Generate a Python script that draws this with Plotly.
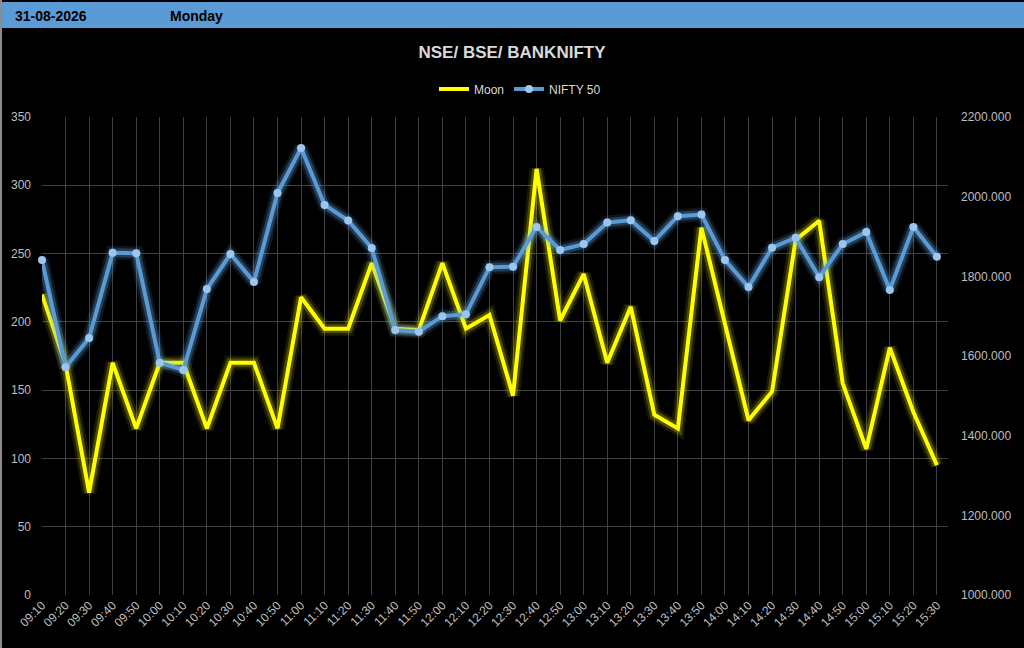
import plotly.graph_objects as go

# time slots (category axis)
times = ["09:10", "09:20", "09:30", "09:40", "09:50",
         "10:00", "10:10", "10:20", "10:30", "10:40", "10:50",
         "11:00", "11:10", "11:20", "11:30", "11:40", "11:50",
         "12:00", "12:10", "12:20", "12:30", "12:40", "12:50",
         "13:00", "13:10", "13:20", "13:30", "13:40", "13:50",
         "14:00", "14:10", "14:20", "14:30", "14:40", "14:50",
         "15:00", "15:10", "15:20", "15:30"]

moon = [220, 169, 75, 170, 122,
        170, 170, 122, 170, 170, 122,
        218, 195, 195, 243, 195, 194,
        243, 195, 205, 146, 312, 201,
        235, 170, 211, 132, 122, 269,
        198, 128, 149, 260, 274, 155,
        107, 181, 134, 95]

nifty = [1841, 1572, 1645, 1859, 1858,
         1583, 1565, 1768, 1856, 1786, 2009,
         2122, 1979, 1940, 1871, 1665, 1661,
         1700, 1705, 1823, 1824, 1924, 1866,
         1881, 1935, 1941, 1889, 1951, 1955,
         1841, 1773, 1872, 1897, 1798, 1881,
         1911, 1766, 1924, 1849]

date_label = "31-08-2026"
day_label = "Monday"
title = "NSE/ BSE/ BANKNIFTY"

FONT = "Liberation Sans Narrow, Liberation Sans, Arial"
TICK_COLOR = "#bfbfbf"
GRID = "#3f3f3f"

xs = list(range(len(times)))

fig = go.Figure()

# soft glow under each line (two passes: wide faint + narrow brighter)
for w, a in [(14, 0.10), (9, 0.22)]:
    fig.add_trace(go.Scatter(x=xs, y=moon, mode="lines", showlegend=False, hoverinfo="skip",
                             line=dict(color=f"rgba(255,255,0,{a})", width=w), cliponaxis=False))
for w, a in [(14, 0.12), (9, 0.25)]:
    fig.add_trace(go.Scatter(x=xs, y=nifty, mode="lines", showlegend=False, hoverinfo="skip",
                             yaxis="y2",
                             line=dict(color=f"rgba(110,185,250,{a})", width=w), cliponaxis=False))

fig.add_trace(go.Scatter(x=xs, y=moon, mode="lines", name="Moon",
                         line=dict(color="#ffff00", width=4), cliponaxis=False))
fig.add_trace(go.Scatter(x=xs, y=nifty, mode="lines+markers", name="NIFTY 50", yaxis="y2",
                         line=dict(color="#5b9bd5", width=4),
                         marker=dict(size=8, color="#9cc6ee"), cliponaxis=False))

# header bar, drawn in paper coords spanning the whole page
pw, ph = 906.0, 478.0
fig.add_shape(type="rect", xref="paper", yref="paper",
              x0=-42 / pw, x1=(1024 - 42) / pw,
              y0=(595 - 28) / ph, y1=(595 - 2) / ph,
              fillcolor="#5b9bd5", line=dict(width=0), layer="below")
# thin grey frame line at the left edge
fig.add_shape(type="line", xref="paper", yref="paper",
              x0=-41 / pw, x1=-41 / pw, y0=(595 - 648) / ph, y1=(595 - 0) / ph,
              line=dict(color="#8c8c8c", width=2), layer="above")

fig.add_annotation(text="<b>" + date_label + "</b>", xref="paper", yref="paper",
                   x=(13 - 42) / pw, y=(595 - 16) / ph, xanchor="left", yanchor="middle",
                   showarrow=False, font=dict(family=FONT, size=14, color="#000000"))
fig.add_annotation(text="<b>" + day_label + "</b>", xref="paper", yref="paper",
                   x=(168 - 42) / pw, y=(595 - 16) / ph, xanchor="left", yanchor="middle",
                   showarrow=False, font=dict(family=FONT, size=14, color="#000000"))

fig.update_layout(
    width=1024, height=648,
    paper_bgcolor="#000000", plot_bgcolor="#000000",
    margin=dict(l=42, r=76, t=117, b=53, autoexpand=False),
    font=dict(family=FONT, size=12, color=TICK_COLOR),
    title=dict(text="<b>" + title + "</b>", x=512 / 1024, xanchor="center",
               y=1 - 52 / 648, yanchor="middle",
               font=dict(family=FONT, size=17, color="#d9d9d9")),
    legend=dict(orientation="h", x=520 / 1024, xref="container", xanchor="center",
                y=1 - 89 / 648, yref="container", yanchor="middle",
                font=dict(family=FONT, size=12, color="#d9d9d9"),
                bgcolor="rgba(0,0,0,0)"),
    showlegend=True,
    xaxis=dict(tickmode="array", tickvals=xs, ticktext=times, tickangle=-45,
               range=[0, 38.47], showgrid=True, gridcolor=GRID, gridwidth=1,
               zeroline=False, showline=False, ticks="", automargin=False,
               tickfont=dict(family=FONT, size=12, color=TICK_COLOR)),
    yaxis=dict(range=[0, 350], dtick=50, showgrid=True, gridcolor=GRID, gridwidth=1,
               zeroline=False, showline=False, ticks="", ticklabelstandoff=10,
               automargin=False,
               tickfont=dict(family=FONT, size=12, color=TICK_COLOR)),
    yaxis2=dict(range=[1000, 2200], dtick=200, tickformat=".3f", overlaying="y",
                side="right", showgrid=False, zeroline=False, showline=False, ticks="",
                ticklabelstandoff=12, automargin=False,
                tickfont=dict(family=FONT, size=12, color=TICK_COLOR)),
)

fig.write_html("out.html", config={"displayModeBar": False},
               post_script="document.body.style.margin='0';")
